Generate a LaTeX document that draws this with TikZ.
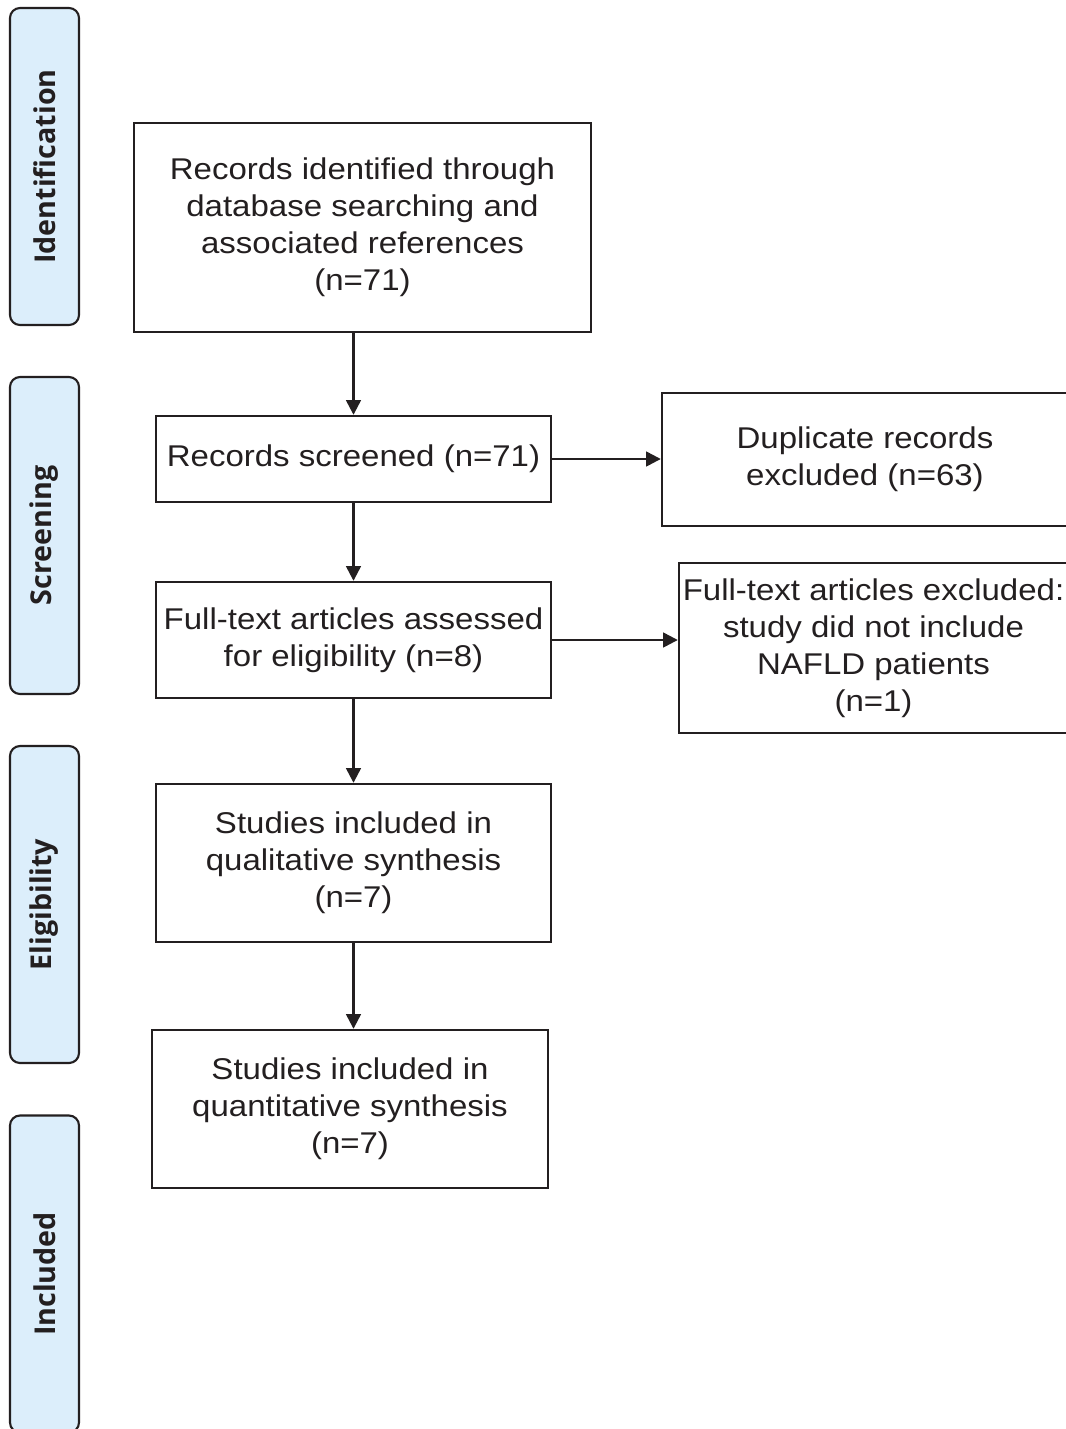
\documentclass[tikz,border=0pt]{standalone}
\usepackage{fontspec}
\setmainfont{Liberation Sans}[FakeStretch=1.1]
\newfontfamily\sidefont{Open Sans}
\usetikzlibrary{arrows.meta}
\definecolor{ink}{HTML}{231F20}
\definecolor{sidefill}{HTML}{DCEEFB}
\begin{document}
\begin{tikzpicture}[x=0.75pt,y=-0.75pt,
  box/.style={draw=ink, line width=1.8pt, fill=white, align=center, inner sep=0pt,
    text=ink, font=\fontsize{22.5}{27.75}\selectfont},
  sidebox/.style={draw=ink, line width=1.6pt, fill=sidefill, rounded corners=7.5pt, inner sep=0pt,
    minimum width=69*0.75pt, minimum height=317*0.75pt},
  sidelabel/.style={rotate=90, text=ink, inner sep=0pt, font=\sidefont\bfseries\fontsize{21.5}{21.5}\selectfont},
  arr/.style={draw=ink, line width=1.8pt, -{Triangle[length=11pt,width=11pt]}}]
\useasboundingbox (0,0) rectangle (1066,1429);
\fill[white] (0,0) rectangle (1066,1429);

% stage bars
\node[sidebox] (sid) at (44.5,166.5) {};
\node[sidelabel] (lid) at (sid.center) {Identification};
\node[sidebox] (sscr) at (44.5,535.5) {};
\node[sidelabel] (lscr) at (sscr.center) {Screening};
\node[sidebox] (selig) at (44.5,904.5) {};
\node[sidelabel] (lelig) at (selig.center) {Eligibility};
\node[sidebox] (sinc) at (44.5,1274) {};
\node[sidelabel] (linc) at (sinc.center) {Included};

% main boxes
\node[box, minimum width=457*0.75pt, minimum height=209*0.75pt] (b1) at (362.5,227.5)
  {Records identified through\\database searching and\\associated references\\(n=71)};
\node[box, minimum width=395*0.75pt, minimum height=86*0.75pt] (b2) at (353.5,459)
  {Records screened (n=71)};
\node[box, minimum width=395*0.75pt, minimum height=116*0.75pt] (b3) at (353.5,640)
  {Full-text articles assessed\\for eligibility (n=8)};
\node[box, minimum width=395*0.75pt, minimum height=158*0.75pt] (b4) at (353.5,863)
  {Studies included in\\qualitative synthesis\\(n=7)};
\node[box, minimum width=396*0.75pt, minimum height=158*0.75pt] (b5) at (350,1109)
  {Studies included in\\quantitative synthesis\\(n=7)};
\node[box, minimum width=406*0.75pt, minimum height=133*0.75pt] (r1) at (865,459.5)
  {Duplicate records\\excluded (n=63)};
\node[box, minimum width=389*0.75pt, minimum height=170*0.75pt] (r2) at (873.5,648)
  {Full-text articles excluded:\\study did not include\\NAFLD patients\\(n=1)};

% connectors
\draw[arr] (b2.north |- b1.south) -- (b2.north);
\draw[arr] (b2.south) -- (b3.north);
\draw[arr] (b3.south) -- (b4.north);
\draw[arr] (b4.south) -- (b4.south |- b5.north);
\draw[arr] (b2.east) -- (b2.east -| r1.west);
\draw[arr] (b3.east) -- (b3.east -| r2.west);
\end{tikzpicture}
\end{document}
